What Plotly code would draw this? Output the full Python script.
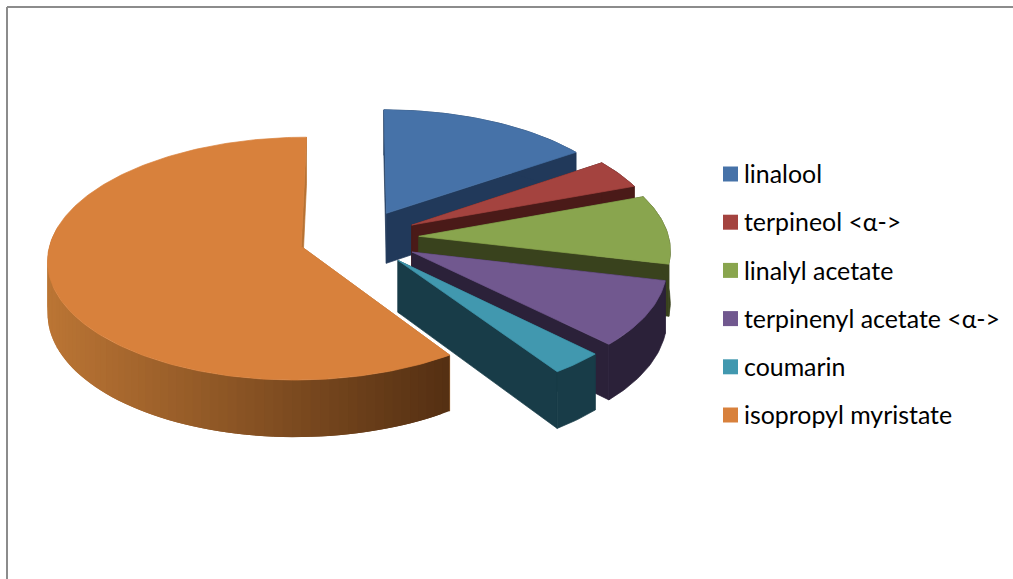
import numpy as np
import plotly.graph_objects as go

# Composition of the oil, percent of total
components = ["linalool", "terpineol <α->", "linalyl acetate",
              "terpinenyl acetate <α->", "coumarin", "isopropyl myristate"]
shares = [15.4, 3.97, 9.33, 8.78, 3.06, 59.44]

top_colors = ["#4672A8", "#A4433F", "#89A54E", "#71588F", "#4198AF", "#D8813C"]
wall_colors = ["#21395A", "#4A1A18", "#39421D", "#2B2139", "#183C48", "#B87233"]

# Projection of the tilted pie onto the page
CX, CY = 359.0, 238.0      # page position of the pie axis
RX, RY = 250.0, 118.5      # radius across and along the view direction
PERSPECTIVE = 0.10         # shrink factor with distance
THICKNESS = 51.0           # wall height
EXPLODE = 0.24             # slice offset, in radii

GRAD_LEFT = np.array([0xBC, 0x76, 0x35])
GRAD_RIGHT = np.array([0x55, 0x30, 0x13])


def project(gx, gy, drop=0.0):
    s = 1.0 / (1.0 + PERSPECTIVE * gy)
    return CX + RX * gx * s, CY - RY * gy * s + drop * s


def add_poly(fig, xs, ys, color, edge=0.7):
    fig.add_trace(go.Scatter(
        x=np.append(xs, xs[0]), y=np.append(ys, ys[0]),
        mode="lines", fill="toself", fillcolor=color,
        line=dict(color=color, width=edge), hoverinfo="skip", showlegend=False,
    ))


fig = go.Figure()

edges = np.concatenate([[0.0], np.cumsum(shares)]) / np.sum(shares) * 2 * np.pi

for i, name in enumerate(components):
    start, end = edges[i], edges[i + 1]
    mid = (start + end) / 2
    ax, ay = EXPLODE * np.sin(mid), EXPLODE * np.cos(mid)
    th = np.linspace(start, end, max(12, int((end - start) * 60)))
    rim_gx, rim_gy = ax + np.sin(th), ay + np.cos(th)

    # Radial walls
    for t in (start, end):
        ex, ey = ax + np.sin(t), ay + np.cos(t)
        x0, y0 = project(ax, ay)
        x1, y1 = project(ex, ey)
        x2, y2 = project(ex, ey, THICKNESS)
        x3, y3 = project(ax, ay, THICKNESS)
        add_poly(fig, np.array([x0, x1, x2, x3]), np.array([y0, y1, y2, y3]), wall_colors[i])

    # Outer curved wall; the large slice is shaded across its width
    xt, yt = project(rim_gx, rim_gy)
    xb, yb = project(rim_gx, rim_gy, THICKNESS)
    if name == "isopropyl myristate":
        front = np.where(rim_gy < 0.1)[0]
        stride = 2
        for j in front[:-stride:stride]:
            k = np.arange(j, j + 2 * stride + 1)
            k = k[k <= front[-1]]
            u = np.clip((xt[j + stride // 2] - 46.0) / 401.0, 0, 1)
            r, g, b = (GRAD_LEFT + (GRAD_RIGHT - GRAD_LEFT) * u).astype(int)
            add_poly(fig, np.concatenate([xt[k], xb[k][::-1]]),
                     np.concatenate([yt[k], yb[k][::-1]]), f"rgb({r},{g},{b})", edge=0)
    else:
        add_poly(fig, np.concatenate([xt, xb[::-1]]), np.concatenate([yt, yb[::-1]]), wall_colors[i])

    # Top face
    apex_x, apex_y = project(ax, ay)
    add_poly(fig, np.concatenate([[apex_x], xt]), np.concatenate([[apex_y], yt]), top_colors[i])

# Legend column
KEY_X, TEXT_X, LEG_Y, LEG_STEP = 730.5, 744.0, 174.0, 48.2
for i, name in enumerate(components):
    row = LEG_Y + i * LEG_STEP
    fig.add_trace(go.Scatter(
        x=[KEY_X], y=[row], mode="markers",
        marker=dict(symbol="square", size=15, color=top_colors[i]),
        hoverinfo="skip", showlegend=False, cliponaxis=False,
    ))
    fig.add_trace(go.Scatter(
        x=[TEXT_X], y=[row + 3], mode="text", text=[name],
        textposition="middle right",
        textfont=dict(family="Lato", size=24.9, color="#000000"),
        hoverinfo="skip", showlegend=False, cliponaxis=False,
    ))

fig.update_layout(
    width=1013, height=579, margin=dict(l=0, r=0, t=0, b=0),
    paper_bgcolor="white", plot_bgcolor="white", showlegend=False,
    xaxis=dict(range=[0, 1013], visible=False, fixedrange=True),
    yaxis=dict(range=[579, 0], visible=False, fixedrange=True),
    shapes=[
        dict(type="line", xref="x", yref="y", x0=7, y0=7, x1=1013, y1=7,
             line=dict(color="#8C8C8C", width=2)),
        dict(type="line", xref="x", yref="y", x0=7, y0=7, x1=7, y1=579,
             line=dict(color="#8C8C8C", width=2)),
    ],
)

fig.write_html("out.html")
